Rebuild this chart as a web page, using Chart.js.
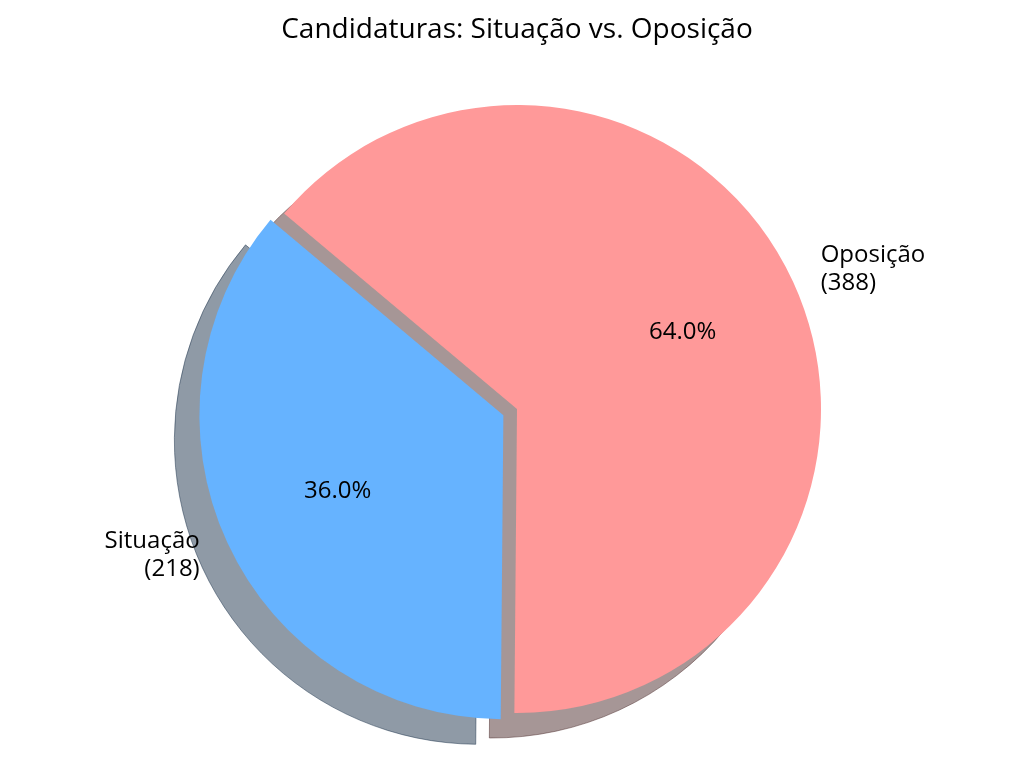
<!DOCTYPE html>
<html>
<head>
<meta charset="utf-8">
<script src="https://cdn.jsdelivr.net/npm/chart.js@4.4.1/dist/chart.umd.min.js"></script>
<style>
  body { margin: 0; background: #fff; }
  canvas { display: block; }
</style>
</head>
<body>
<canvas id="pie-chart" width="1024" height="768"></canvas>
<script>
  // dados
  var categorias = ["Situação", "Oposição"];
  var candidaturas = [218, 388];
  var cores = ["#66b3ff", "#ff9999"];
  var coresSombra = ["rgba(31,54,77,0.5)", "rgba(77,46,46,0.5)"];
  var destaque = [15, 0]; // explode, em px

  var total = candidaturas.reduce(function(a, b) { return a + b; }, 0);
  var fonte = "'Open Sans', Roboto, 'DejaVu Sans', sans-serif";

  // desloca a fatia destacada
  var pluginDestaque = {
    id: 'destaque',
    afterDatasetUpdate: function(chart, args) {
      args.meta.data.forEach(function(arc, i) {
        var d = destaque[i];
        if (!d) return;
        var meio = (arc.startAngle + arc.endAngle) / 2;
        arc.x += Math.cos(meio) * d;
        arc.y += Math.sin(meio) * d;
      });
    }
  };

  // sombra por baixo das fatias
  var pluginSombra = {
    id: 'sombra',
    beforeDatasetsDraw: function(chart) {
      var ctx = chart.ctx;
      chart.getDatasetMeta(0).data.forEach(function(arc, i) {
        var sx = arc.x - 25, sy = arc.y + 25;
        ctx.save();
        ctx.beginPath();
        ctx.moveTo(sx, sy);
        ctx.arc(sx, sy, arc.outerRadius, arc.startAngle, arc.endAngle);
        ctx.closePath();
        ctx.fillStyle = coresSombra[i];
        ctx.fill();
        ctx.lineWidth = 1;
        ctx.strokeStyle = coresSombra[i];
        ctx.stroke();
        ctx.restore();
      });
    }
  };

  // rotulos e porcentagens
  var pluginRotulos = {
    id: 'rotulos',
    afterDatasetsDraw: function(chart) {
      var ctx = chart.ctx;
      chart.getDatasetMeta(0).data.forEach(function(arc, i) {
        var meio = (arc.startAngle + arc.endAngle) / 2;
        var c = Math.cos(meio), s = Math.sin(meio);
        var r = arc.outerRadius;
        ctx.save();
        ctx.fillStyle = '#000';
        ctx.font = "24px " + fonte;
        ctx.textBaseline = 'middle';
        ctx.textAlign = 'center';
        var pct = (candidaturas[i] / total * 100).toFixed(1) + '%';
        ctx.fillText(pct, arc.x + c * r * 0.6, arc.y + s * r * 0.6);

        var lx = arc.x + c * r * 1.1, ly = arc.y + s * r * 1.1;
        ctx.textAlign = c < 0 ? 'right' : 'left';
        var linhas = [categorias[i], '(' + candidaturas[i] + ')'];
        linhas.forEach(function(t, k) {
          ctx.fillText(t, lx, ly + (k - (linhas.length - 1) / 2) * 28);
        });
        ctx.restore();
      });
    }
  };

  var mChart = new Chart(document.getElementById("pie-chart"), {
    type: 'pie',
    data: {
      labels: categorias,
      datasets: [{
        data: candidaturas,
        backgroundColor: cores,
        borderWidth: 0,
        radius: 304
      }]
    },
    options: {
      responsive: false,
      animation: false,
      rotation: 180.5,
      layout: { padding: { left: 10, right: 0, top: 0, bottom: 0 } },
      events: [],
      plugins: {
        legend: { display: false },
        tooltip: { enabled: false },
        title: {
          display: true,
          text: 'Candidaturas: Situação vs. Oposição',
          color: '#000',
          font: { family: fonte, size: 28, weight: 'normal' },
          padding: { top: 13, bottom: 3.4 }
        }
      }
    },
    plugins: [pluginDestaque, pluginSombra, pluginRotulos]
  });
</script>
</body>
</html>
